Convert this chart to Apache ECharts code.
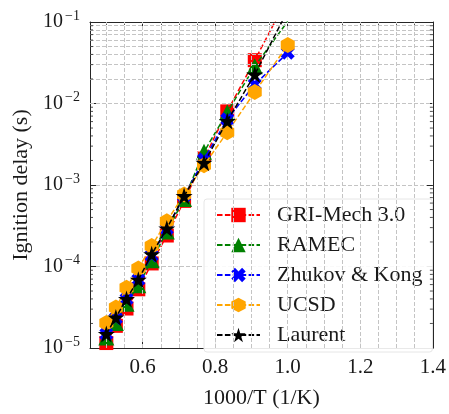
<!DOCTYPE html>
<html><head><meta charset="utf-8">
<script src="https://cdn.jsdelivr.net/npm/echarts@6/dist/echarts.min.js"></script>
<style>html,body{margin:0;padding:0;background:#fff}#c{width:449px;height:414px}</style>
</head><body><div id="c"></div>
<script>
// 1000/T values (T = 2000 ... 1000 K)
const invT = [0.5, 0.5263, 0.5556, 0.5882, 0.625, 0.6667, 0.7143, 0.7692, 0.8333, 0.9091, 1.0];
const griMech  = [1.15e-5, 1.87e-5, 3.05e-5, 5.25e-5, 1.09e-4, 2.40e-4, 6.38e-4, 2.11e-3, 8.0e-3, 3.40e-2, 0.2];
const ramec    = [1.35e-5, 2.03e-5, 3.49e-5, 5.89e-5, 1.19e-4, 2.68e-4, 6.75e-4, 2.55e-3, 7.8e-3, 2.86e-2, 0.102];
const zhukov   = [1.48e-5, 2.32e-5, 4.0e-5, 6.89e-5, 1.36e-4, 2.90e-4, 7.31e-4, 2.06e-3, 6.43e-3, 1.71e-2, 4.19e-2];
const ucsd     = [2.03e-5, 3.13e-5, 5.50e-5, 9.46e-5, 1.78e-4, 3.60e-4, 7.62e-4, 1.75e-3, 4.44e-3, 1.38e-2, 5.21e-2];
const laurent  = [1.48e-5, 2.37e-5, 4.0e-5, 6.89e-5, 1.41e-4, 2.93e-4, 7.31e-4, 1.87e-3, 6.1e-3, 2.27e-2, 0.139];
const seriesNames = ['GRI-Mech 3.0', 'RAMEC', 'Zhukov & Kong', 'UCSD', 'Laurent'];
const xTickLabels = [0.6, 0.8, 1.0, 1.2, 1.4];
const xMinorTicks = [0.5, 0.55, 0.65, 0.7, 0.75, 0.85, 0.9, 0.95, 1.05, 1.1, 1.15, 1.25, 1.3, 1.35];
const xGridValues = [0.5, 0.55, 0.6, 0.65, 0.7, 0.75, 0.8, 0.85, 0.9, 0.95, 1.0, 1.05, 1.1, 1.15, 1.2, 1.25, 1.3, 1.35];
const yDecades = [1e-5, 1e-4, 1e-3, 1e-2];
const yMinorMultipliers = [2, 3, 4, 5, 6, 7, 8, 9];

const yMinorValues = [];
yDecades.forEach(d => yMinorMultipliers.forEach(m => yMinorValues.push(m * d)));

const serif = 'Liberation Serif';
const gridColor = '#c4c4c4';
const frameColor = '#262626';
const dash = [5.5, 2.4];

const SYM_X = 'path://M0,2.5 L2.5,0 L5,2.5 L7.5,0 L10,2.5 L7.5,5 L10,7.5 L7.5,10 L5,7.5 L2.5,10 L0,7.5 L2.5,5 Z';
const SYM_HEX = 'path://M5,0 L9.33,2.5 L9.33,7.5 L5,10 L0.67,7.5 L0.67,2.5 Z';
const SYM_STAR = 'path://M5,0 L6.12,3.45 L9.76,3.45 L6.82,5.59 L7.94,9.05 L5,6.91 L2.06,9.05 L3.18,5.59 L0.24,3.45 L3.88,3.45 Z';

const defs = [
  {name: seriesNames[0], data: griMech, color: '#ff0000', symbol: 'rect', size: 14},
  {name: seriesNames[1], data: ramec, color: '#008000', symbol: 'triangle', size: 16},
  {name: seriesNames[2], data: zhukov, color: '#0000ff', symbol: SYM_X, size: 14},
  {name: seriesNames[3], data: ucsd, color: '#ffa500', symbol: SYM_HEX, size: [14, 16]},
  {name: seriesNames[4], data: laurent, color: '#000000', symbol: SYM_STAR, size: 17}
];

const series = defs.map((d, i) => ({
  type: 'line', name: d.name,
  data: invT.map((x, j) => [x, d.data[j]]),
  symbol: d.symbol, symbolSize: d.size, showSymbol: true,
  itemStyle: {color: d.color}, lineStyle: {color: d.color, width: 1.5, type: dash},
  z: 3 + i, animation: false, clip: true
}));

// grid lines
series.push({
  type: 'line', name: '_grid', data: [], silent: true, animation: false, z: 1,
  markLine: {
    silent: true, symbol: ['none', 'none'], animation: false,
    label: {show: false},
    lineStyle: {color: gridColor, width: 1, type: [4, 2]},
    data: xGridValues.map(v => ({xAxis: v})).concat(yMinorValues.map(v => ({yAxis: v})))
  }
});
// minor y ticks (left & right, inward)
series.push({
  type: 'custom', name: '_yminor', silent: true, animation: false, z: 10, clip: false,
  data: yMinorValues.map(v => [1.0, v]),
  renderItem: function (params, api) {
    const p = api.coord([1.0, api.value(1)]);
    const cs = params.coordSys;
    const st = {stroke: frameColor, lineWidth: 0.8};
    return {type: 'group', children: [
      {type: 'line', shape: {x1: cs.x, y1: p[1], x2: cs.x + 3, y2: p[1]}, style: st},
      {type: 'line', shape: {x1: cs.x + cs.width, y1: p[1], x2: cs.x + cs.width - 3, y2: p[1]}, style: st}
    ]};
  }
});

const xBase = {type: 'value', min: 0.455, max: 1.4, splitLine: {show: false}};
const yBase = {type: 'log', logBase: 10, min: 1e-5, max: 1e-1};

const option = {
  backgroundColor: '#fff',
  animation: false,
  grid: {left: 90, right: 11, top: 22, bottom: 53, containLabel: false},
  legend: {
    data: seriesNames, orient: 'vertical', left: 204, top: 199,
    itemWidth: 43, itemHeight: 18, itemGap: 8,
    padding: [5, 10, 6, 12],
    backgroundColor: 'rgba(255,255,255,0.9)', borderColor: '#e6e6e6', borderWidth: 1, borderRadius: 3,
    textStyle: {fontFamily: serif, fontSize: 22, color: '#1a1a1a', padding: [0, 0, 0, 12]}
  },
  xAxis: [
    Object.assign({}, xBase, {
      position: 'bottom',
      name: '1000/T (1/K)', nameLocation: 'middle', nameGap: 39,
      nameTextStyle: {fontFamily: serif, fontSize: 22, color: '#1a1a1a'},
      axisLine: {show: true, onZero: false, lineStyle: {color: frameColor, width: 1}},
      axisTick: {show: true, inside: true, length: 6, customValues: xTickLabels, lineStyle: {color: frameColor}},
      axisLabel: {show: true, customValues: xTickLabels, margin: 9, formatter: v => v.toFixed(1),
        fontFamily: serif, fontSize: 21, color: '#1a1a1a'}
    }),
    Object.assign({}, xBase, {
      position: 'bottom',
      axisLine: {show: false}, axisLabel: {show: false},
      axisTick: {show: true, inside: true, length: 3, customValues: xMinorTicks, lineStyle: {color: frameColor, width: 0.8}}
    }),
    Object.assign({}, xBase, {
      position: 'top',
      axisLine: {show: true, onZero: false, lineStyle: {color: frameColor, width: 1}}, axisLabel: {show: false},
      axisTick: {show: true, inside: true, length: 6, customValues: xTickLabels, lineStyle: {color: frameColor}}
    }),
    Object.assign({}, xBase, {
      position: 'top',
      axisLine: {show: false}, axisLabel: {show: false},
      axisTick: {show: true, inside: true, length: 3, customValues: xMinorTicks, lineStyle: {color: frameColor, width: 0.8}}
    })
  ],
  yAxis: [
    Object.assign({}, yBase, {
      position: 'left',
      name: 'Ignition delay (s)', nameLocation: 'middle', nameGap: 57,
      nameTextStyle: {fontFamily: serif, fontSize: 22, color: '#1a1a1a'},
      axisLine: {show: true, onZero: false, lineStyle: {color: frameColor, width: 1}},
      axisTick: {show: true, inside: true, length: 6, lineStyle: {color: frameColor}},
      splitLine: {show: true, lineStyle: {color: gridColor, width: 1, type: [4, 2]}},
      axisLabel: {
        margin: 10,
        formatter: v => '{b|10}{s|\u2212' + Math.round(-Math.log10(v)) + '}',
        rich: {
          b: {fontFamily: serif, fontSize: 20, color: '#1a1a1a'},
          s: {fontFamily: serif, fontSize: 14, color: '#1a1a1a', padding: [0, 0, 12, 2]}
        }
      }
    }),
    Object.assign({}, yBase, {
      position: 'right',
      axisLine: {show: true, onZero: false, lineStyle: {color: frameColor, width: 1}},
      axisTick: {show: true, inside: true, length: 6, lineStyle: {color: frameColor}},
      splitLine: {show: false}, axisLabel: {show: false}
    })
  ],
  series: series
};

const chart = echarts.init(document.getElementById('c'), null, {renderer: 'canvas'});
chart.setOption(option);
</script>
</body></html>
